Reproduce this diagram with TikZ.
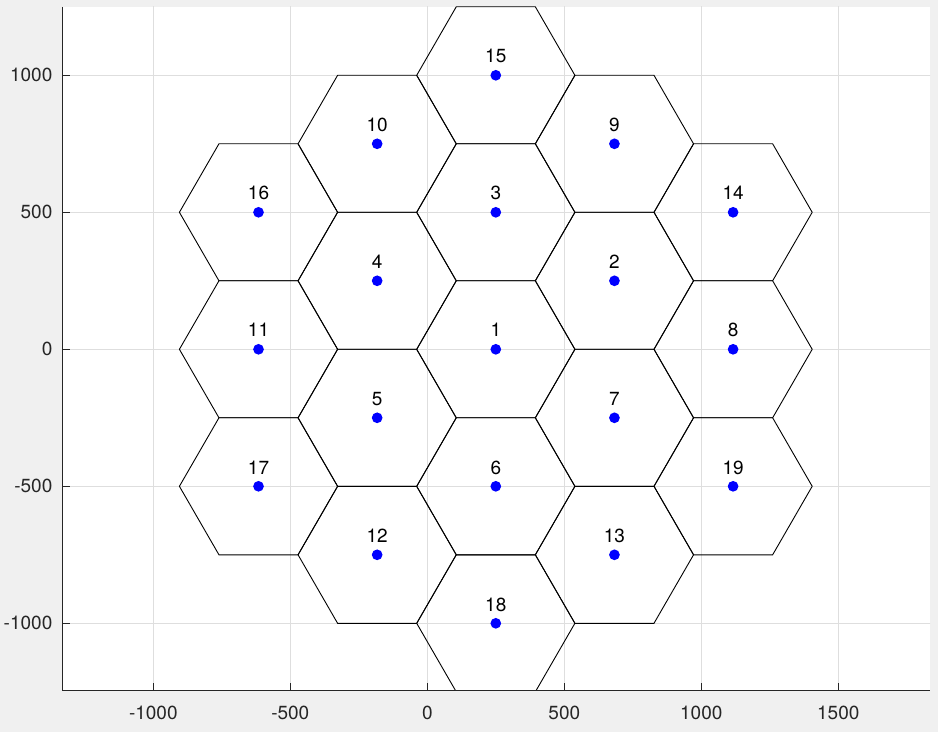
\documentclass[tikz,border=0pt]{standalone}
\usepackage{fontspec}
\setmainfont{TeX Gyre Heros}
\definecolor{figbg}{HTML}{F0F0F0}
\definecolor{gridc}{HTML}{DEDEDE}
\definecolor{axc}{HTML}{262626}
\definecolor{dotc}{HTML}{0000FF}
\tikzset{
  hexline/.style={draw=black, line width=0.9pt, line join=miter},
  gridline/.style={draw=gridc, line width=0.9pt},
  axline/.style={draw=axc, line width=1.1pt},
  cdot/.style={circle, fill=dotc, inner sep=0pt, minimum size=10.7pt},
  clab/.style={anchor=base, inner sep=0pt, font=\fontsize{19}{23}\selectfont, text=black},
  ticklab/.style={inner sep=0pt, font=\fontsize{19}{23}\selectfont, text=axc},
}
\begin{document}
\begin{tikzpicture}[x=1pt,y=1pt]
\fill[figbg] (0,0) rectangle (938,732);
\useasboundingbox (0,0) rectangle (938,732);
\fill[white] (62.3,41.5) rectangle (930,725);
\begin{scope}
\clip (62.3,41.5) rectangle (930,725);
\begin{scope}[shift={(427.3,382.7)}, x=0.274pt, y=0.274pt]
  \foreach \gx in {-1000,-500,0,500,1000,1500}
    \draw[gridline] (\gx,-1300) -- (\gx,1300);
  \foreach \gy in {-1000,-500,0,500,1000}
    \draw[gridline] (-1400,\gy) -- (1900,\gy);
  \foreach \n/\cx/\cy in {1/250/0, 2/683.01/250, 3/250/500, 4/-183.01/250, 5/-183.01/-250,
      6/250/-500, 7/683.01/-250, 8/1116.03/0, 9/683.01/750, 10/-183.01/750,
      11/-616.03/0, 12/-183.01/-750, 13/683.01/-750, 14/1116.03/500, 15/250/1000,
      16/-616.03/500, 17/-616.03/-500, 18/250/-1000, 19/1116.03/-500}{
    \draw[hexline] (\cx+288.675,\cy) -- (\cx+144.34,\cy+250) -- (\cx-144.34,\cy+250)
      -- (\cx-288.675,\cy) -- (\cx-144.34,\cy-250) -- (\cx+144.34,\cy-250) -- cycle;
  }
\end{scope}
\end{scope}
\begin{scope}[shift={(427.3,382.7)}, x=0.274pt, y=0.274pt]
  \foreach \n/\cx/\cy in {1/250/0, 2/683.01/250, 3/250/500, 4/-183.01/250, 5/-183.01/-250,
      6/250/-500, 7/683.01/-250, 8/1116.03/0, 9/683.01/750, 10/-183.01/750,
      11/-616.03/0, 12/-183.01/-750, 13/683.01/-750, 14/1116.03/500, 15/250/1000,
      16/-616.03/500, 17/-616.03/-500, 18/250/-1000, 19/1116.03/-500}{
    \node[cdot] (c\n) at (\cx,\cy) {};
    \node[clab] (l\n) at ([yshift=12.3pt]c\n.center) {\n};
  }
  \coordinate (ax0) at (-1332,-1246);
  \coordinate (axt) at (-1332,1250);
  \coordinate (axr) at (1835,-1246);
  \foreach \gx in {-1000,-500,0,500,1000,1500}{
    \coordinate (xt\gx) at (\gx,-1246);
    \draw[axline] (xt\gx) -- ++(0,8pt);
    \node[ticklab, anchor=north] (xl\gx) at ([yshift=-15.5pt]xt\gx) {\gx};
  }
  \foreach \gy in {-1000,-500,0,500,1000}{
    \coordinate (yt\gy) at (-1332,\gy);
    \draw[axline] (yt\gy) -- ++(8pt,0);
    \node[ticklab, anchor=east] (yl\gy) at ([xshift=-9.8pt]yt\gy) {\gy};
  }
  \draw[axline] (axt) -- (ax0) -- (axr);
\end{scope}
\end{tikzpicture}
\end{document}
